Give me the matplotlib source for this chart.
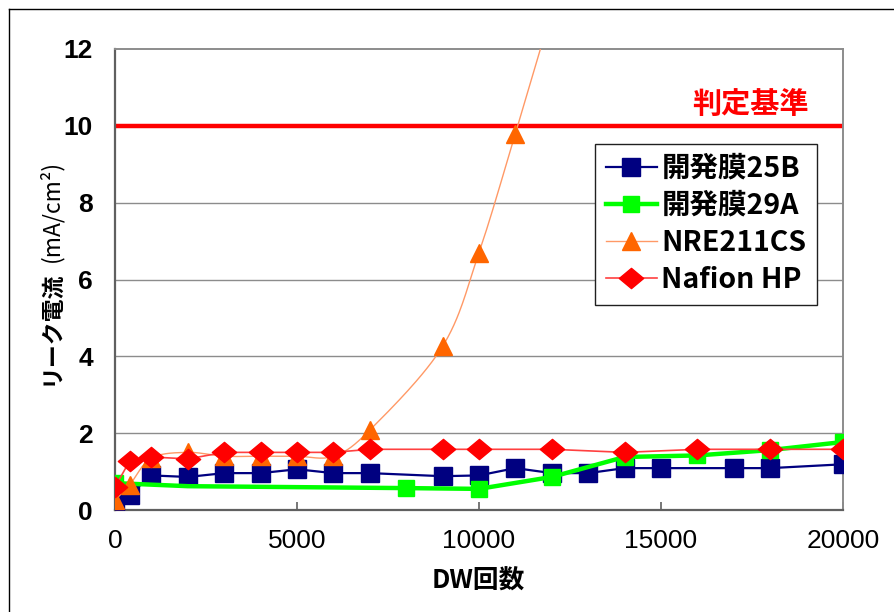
import numpy as np
import matplotlib
matplotlib.use("Agg")
import matplotlib.pyplot as plt
from matplotlib.lines import Line2D
from matplotlib.path import Path

plt.rcParams['font.family'] = ['Liberation Sans', 'Noto Sans CJK JP', 'DejaVu Sans']
CJK = ['Noto Sans CJK JP', 'DejaVu Sans']

# ---- data -------------------------------------------------------------
x_25b = [0, 400, 1000, 2000, 3000, 4000, 5000, 6000, 7000, 9000, 10000,
         11000, 12000, 13000, 14000, 15000, 17000, 18000, 20000]
y_25b = [0.18, 0.40, 0.90, 0.86, 0.96, 0.96, 1.06, 0.96, 0.96, 0.88, 0.90,
         1.09, 0.96, 0.96, 1.09, 1.09, 1.09, 1.09, 1.19]

x_29a = [0, 2000, 8000, 10000, 12000, 14000, 16000, 18000, 20000]
y_29a = [0.70, 0.62, 0.57, 0.55, 0.86, 1.38, 1.42, 1.56, 1.77]
marked_29a = [0, 2, 3, 4, 5, 6, 7, 8]

x_nre = [0, 400, 1000, 2000, 3000, 4000, 5000, 6000, 7000, 9000, 10000,
         11000, 12000]
y_nre = [0.26, 0.65, 1.35, 1.50, 1.40, 1.40, 1.40, 1.40, 2.08, 4.26, 6.70,
         9.80, 13.0]

x_hp = [0, 400, 1000, 2000, 3000, 4000, 5000, 6000, 7000, 9000, 10000,
        12000, 14000, 16000, 18000, 20000]
y_hp = [0.60, 1.27, 1.38, 1.33, 1.50, 1.50, 1.50, 1.50, 1.58, 1.58, 1.58,
        1.58, 1.50, 1.58, 1.58, 1.58]

threshold = 10
threshold_label = '判定基準'
series_names = ['開発膜25B', '開発膜29A', 'NRE211CS', 'Nafion HP']
x_ticks = [0, 5000, 10000, 15000, 20000]
y_ticks = [0, 2, 4, 6, 8, 10, 12]


def catmull_rom(xs, ys, sx, sy, n=30):
    """Smooth curve through the points, computed in screen-like units."""
    p = np.column_stack([np.asarray(xs, float) * sx, np.asarray(ys, float) * sy])
    p = np.vstack([p[0], p, p[-1]])
    out = []
    t = np.linspace(0, 1, n)[:, None]
    for i in range(1, len(p) - 2):
        p0, p1, p2, p3 = p[i - 1], p[i], p[i + 1], p[i + 2]
        seg = 0.5 * ((2 * p1) + (-p0 + p2) * t +
                     (2 * p0 - 5 * p1 + 4 * p2 - p3) * t ** 2 +
                     (-p0 + 3 * p1 - 3 * p2 + p3) * t ** 3)
        out.append(seg)
    out = np.vstack(out)
    return out[:, 0] / sx, out[:, 1] / sy


# wide, flat diamond marker
diamond = Path([(-1.2, 0), (0, 1), (1.2, 0), (0, -1), (-1.2, 0)],
               [Path.MOVETO, Path.LINETO, Path.LINETO, Path.LINETO, Path.CLOSEPOLY])

fig = plt.figure(figsize=(8.95, 6.12), dpi=100)
ax = fig.add_axes([115 / 895, 1 - 510 / 612, 728 / 895, 461 / 612])

ax.set_xlim(0, 20000)
ax.set_ylim(0, 12)

# horizontal grid
for yv in y_ticks[1:-1]:
    ax.axhline(yv, color='#8c8c8c', lw=1.0, zorder=1)

navy, green, orange, red = '#000080', '#00ff00', '#ff6600', '#ff0000'

ax.plot(x_25b, y_25b, color=navy, lw=1.6, marker='s', ms=13.5,
        mfc=navy, mec=navy, zorder=3)
ax.plot(x_29a, y_29a, color=green, lw=3.2, marker='s', ms=11,
        mfc=green, mec=green, markevery=marked_29a, zorder=4)
sx, sy = catmull_rom(x_nre, y_nre, 728 / 20000, 461 / 12)
ax.plot(sx, sy, color='#ff9966', lw=1.0, zorder=5)
ax.plot(x_nre, y_nre, ls='none', marker='^', ms=13.5, mfc=orange, mec=orange,
        zorder=5)
ax.plot(x_hp, y_hp, color='#ff4040', lw=1.2, marker=diamond, ms=17.5,
        mfc=red, mec=red, zorder=6)

ax.axhline(threshold, color=red, lw=3.2, zorder=2)
ax.text(17450, 10.57, threshold_label, color=red, fontsize=21,
        fontweight='bold', family=CJK, ha='center', va='center')

# axes styling
for side in ['left', 'bottom']:
    ax.spines[side].set_color('#606060')
    ax.spines[side].set_linewidth(1.6)
for side in ['top', 'right']:
    ax.spines[side].set_color('#8c8c8c')
    ax.spines[side].set_linewidth(1.4)

ax.set_xticks(x_ticks)
ax.set_xticklabels([str(v) for v in x_ticks], fontsize=19)
ax.set_yticks(y_ticks)
ax.set_yticklabels([str(v) for v in y_ticks], fontsize=19, fontweight='bold')
ax.tick_params(axis='x', direction='in', length=6, width=1.2, color='#606060',
               pad=14)
ax.tick_params(axis='y', direction='in', length=0, pad=16)

# axis titles
fig.text(478 / 895, 1 - 581 / 612, 'DW回数', fontsize=18.5, fontweight='bold',
         family=CJK, ha='center', va='center')
fig.text(51 / 895, 1 - 385 / 612, 'リーク電流', fontsize=16.5, fontweight='bold',
         family=CJK, rotation=90, ha='center', va='bottom')
fig.text(51 / 895, 1 - 160 / 612, '(mA/cm²)', fontsize=16.5,
         family=CJK, rotation=90, ha='center', va='top')

# legend
handles = [
    Line2D([], [], color=navy, lw=1.6, marker='s', ms=13.5, mfc=navy, mec=navy),
    Line2D([], [], color=green, lw=3.2, marker='s', ms=11, mfc=green, mec=green),
    Line2D([], [], color='#ff9966', lw=1.0, marker='^', ms=13.5, mfc=orange, mec=orange),
    Line2D([], [], color='#ff4040', lw=1.2, marker=diamond, ms=17.5, mfc=red, mec=red),
]
leg = ax.legend(handles, series_names, loc='upper left',
                bbox_to_anchor=(595 / 895, 1 - 144 / 612),
                bbox_transform=fig.transFigure,
                prop={'family': CJK, 'weight': 'bold', 'size': 20.5},
                frameon=True, fancybox=False, edgecolor='#202020',
                framealpha=1, borderpad=0.38, labelspacing=0.32,
                handlelength=1.8, handletextpad=0.15, borderaxespad=0)
leg.get_frame().set_linewidth(1.0)
leg.set_zorder(10)

# outer frame lines of the figure
fig.add_artist(Line2D([9 / 895, 1], [1 - 9 / 612, 1 - 9 / 612],
                      transform=fig.transFigure, color='black', lw=1.0))
fig.add_artist(Line2D([9 / 895, 9 / 895], [0, 1 - 9 / 612],
                      transform=fig.transFigure, color='black', lw=1.0))

fig.savefig('out.png', dpi=100)
